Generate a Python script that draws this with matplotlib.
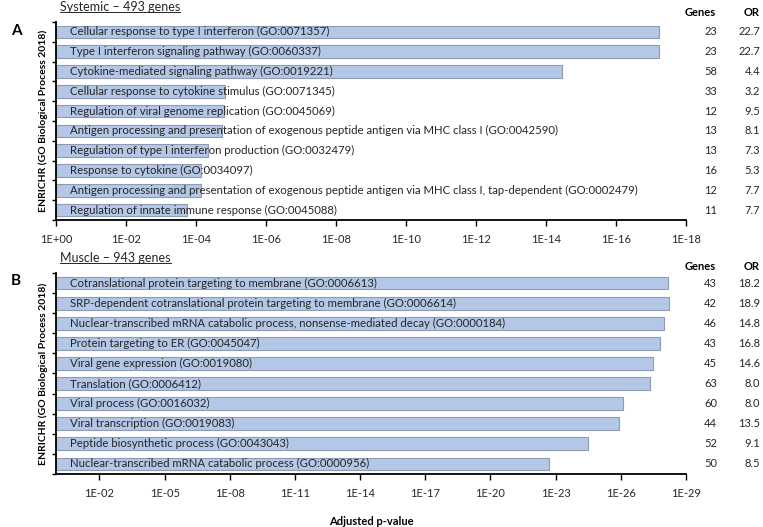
import matplotlib
matplotlib.use("Agg")
import matplotlib.pyplot as plt
import matplotlib.transforms as mtransforms
from matplotlib.lines import Line2D

plt.rcParams['font.family'] = ['Lato', 'DejaVu Sans']

# Systemic panel (A)
systemic_terms = [
    "Cellular response to type I interferon (GO:0071357)",
    "Type I interferon signaling pathway (GO:0060337)",
    "Cytokine-mediated signaling pathway (GO:0019221)",
    "Cellular response to cytokine stimulus (GO:0071345)",
    "Regulation of viral genome replication (GO:0045069)",
    "Antigen processing and presentation of exogenous peptide antigen via MHC class I (GO:0042590)",
    "Regulation of type I interferon production (GO:0032479)",
    "Response to cytokine (GO:0034097)",
    "Antigen processing and presentation of exogenous peptide antigen via MHC class I, tap-dependent (GO:0002479)",
    "Regulation of innate immune response (GO:0045088)",
]
systemic_neglog10p = [17.23, 17.23, 14.46, 4.83, 4.80, 4.73, 4.33, 4.15, 4.13, 3.73]
systemic_genes = [23, 23, 58, 33, 12, 13, 13, 16, 12, 11]
systemic_or = [22.7, 22.7, 4.4, 3.2, 9.5, 8.1, 7.3, 5.3, 7.7, 7.7]

# Muscle panel (B)
muscle_terms = [
    "Cotranslational protein targeting to membrane (GO:0006613)",
    "SRP-dependent cotranslational protein targeting to membrane (GO:0006614)",
    "Nuclear-transcribed mRNA catabolic process, nonsense-mediated decay (GO:0000184)",
    "Protein targeting to ER (GO:0045047)",
    "Viral gene expression (GO:0019080)",
    "Translation (GO:0006412)",
    "Viral process (GO:0016032)",
    "Viral transcription (GO:0019083)",
    "Peptide biosynthetic process (GO:0043043)",
    "Nuclear-transcribed mRNA catabolic process (GO:0000956)",
]
muscle_neglog10p = [28.17, 28.20, 27.98, 27.80, 27.50, 27.35, 26.10, 25.90, 24.50, 22.70]
muscle_genes = [43, 42, 46, 43, 45, 63, 60, 44, 52, 50]
muscle_or = [18.2, 18.9, 14.8, 16.8, 14.6, 8.0, 8.0, 13.5, 9.1, 8.5]

bar_color = '#b4c7e7'
edge_color = '#8f9bb0'
text_color = '#262626'

fig = plt.figure(figsize=(7.63, 5.27), dpi=100)
ax_a = fig.add_axes([56 / 763, 1 - 220 / 527, 630 / 763, 198 / 527])
ax_b = fig.add_axes([56 / 763, 1 - 474 / 527, 630 / 763, 201 / 527])


def draw_panel(ax, terms, vals, genes, ors, xmax, ticks, letter, title,
               head_y, letter_y, title_y):
    y = list(range(len(terms)))
    ax.barh(y, vals, height=0.64, color=bar_color, edgecolor=edge_color, linewidth=0.8)
    ax.set_ylim(len(terms) - 0.5, -0.5)
    ax.set_xlim(0, xmax)
    ax.set_yticks([i - 0.5 for i in range(len(terms) + 1)])
    ax.set_yticklabels([])
    ax.tick_params(axis='y', length=3, width=1, direction='out', pad=0)
    ax.set_xticks(ticks)
    ax.set_xticklabels(["1E+00" if t == 0 else "1E-%02d" % t for t in ticks],
                       fontsize=8, color=text_color)
    ax.tick_params(axis='x', length=4, width=1, direction='out', pad=6)
    for s in ['top', 'right']:
        ax.spines[s].set_visible(False)
    ax.spines['left'].set_linewidth(1.3)
    ax.spines['bottom'].set_linewidth(1.3)
    for i, t in enumerate(terms):
        ax.annotate(t, xy=(0, i), xycoords=('axes fraction', 'data'),
                    xytext=(10, 0), textcoords='offset points',
                    va='center', ha='left', fontsize=8.2, color=text_color)
    tr = mtransforms.blended_transform_factory(fig.transFigure, ax.transData)
    for i in range(len(terms)):
        ax.text(717 / 763, i, str(genes[i]), transform=tr, ha='right', va='center',
                fontsize=8, color=text_color)
        ax.text(760 / 763, i, "%.1f" % ors[i], transform=tr, ha='right', va='center',
                fontsize=8, color=text_color)
    ax.text(700 / 763, 1 - head_y / 527, "Genes", transform=fig.transFigure,
            ha='center', va='center', fontsize=8, fontweight='bold')
    ax.text(752 / 763, 1 - head_y / 527, "OR", transform=fig.transFigure,
            ha='center', va='center', fontsize=8, fontweight='bold')
    fig.text(11 / 763, 1 - letter_y / 527, letter, fontsize=11, fontweight='bold',
             ha='left', va='center')
    ttl = fig.text(60 / 763, 1 - title_y / 527, title, fontsize=9, color=text_color,
                   ha='left', va='center')
    ax.set_ylabel("ENRICHR (GO Biological Process 2018)", fontsize=7.5,
                  fontweight='bold', labelpad=3)
    return ttl


t1 = draw_panel(ax_a, systemic_terms, systemic_neglog10p, systemic_genes, systemic_or,
                18, list(range(0, 19, 2)), "A", "Systemic \u2013 493 genes", 12, 31, 7)
t2 = draw_panel(ax_b, muscle_terms, muscle_neglog10p, muscle_genes, muscle_or,
                29, list(range(2, 30, 3)), "B", "Muscle \u2013 943 genes", 267, 281, 258)
ax_b.set_xlabel("Adjusted p-value", fontsize=8, fontweight='bold', labelpad=12)

# underline the panel titles
fig.canvas.draw()
renderer = fig.canvas.get_renderer()
for t in (t1, t2):
    bb = t.get_window_extent(renderer).transformed(fig.transFigure.inverted())
    fig.add_artist(Line2D([bb.x0, bb.x1], [bb.y0 + 0.002, bb.y0 + 0.002],
                          transform=fig.transFigure, color=text_color, linewidth=0.7))

fig.savefig("out.png", dpi=100)
